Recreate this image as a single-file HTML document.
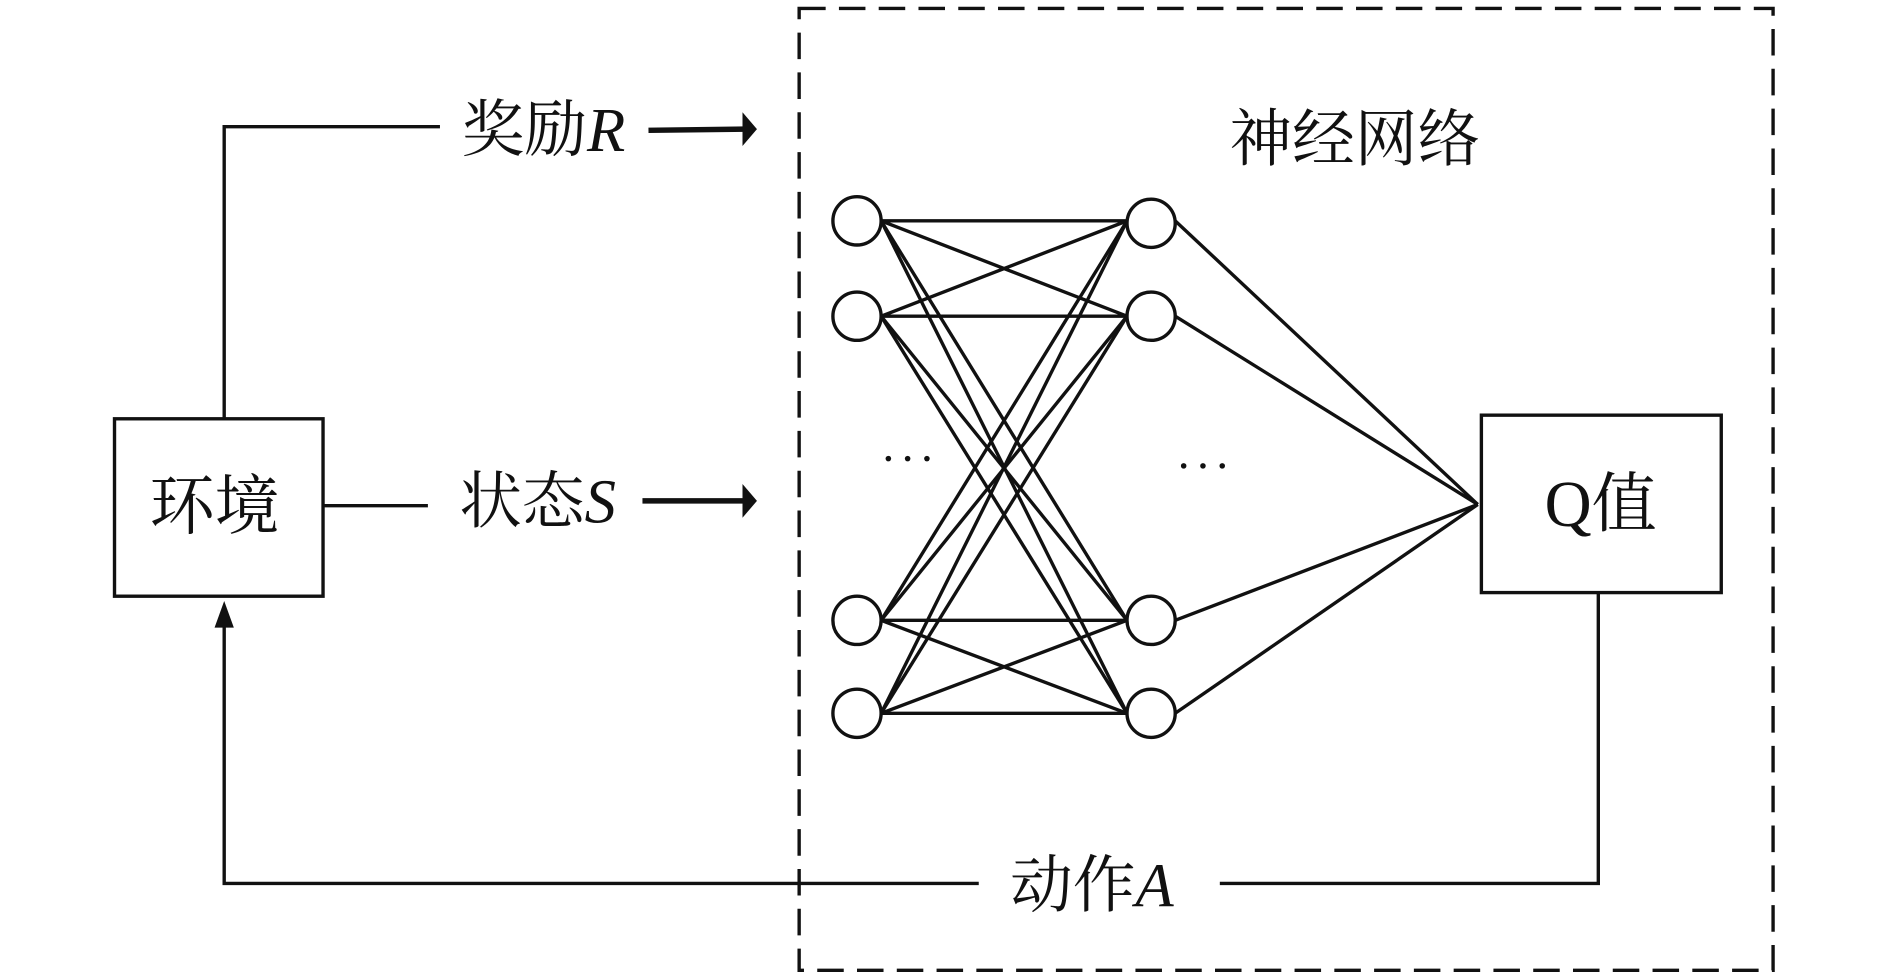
<!DOCTYPE html>
<html><head><meta charset="utf-8"><style>
html,body{margin:0;padding:0;background:#fff;}
svg{display:block;}
text{font-family:"Liberation Serif","Noto Serif CJK SC",serif;fill:#111;}
</style></head><body>
<svg width="1890" height="980" viewBox="0 0 1568 812" preserveAspectRatio="none" xmlns="http://www.w3.org/2000/svg">
<g stroke="#111" fill="none">
<rect x="663" y="7" width="808" height="797" stroke-width="2.8" stroke-dasharray="22,11"/>
<rect x="95" y="347" width="173" height="147" stroke-width="2.8"/>
<rect x="1229" y="344" width="199" height="147" stroke-width="2.8"/>
<polyline points="186,347 186,105 365,105" stroke-width="2.8"/>
<line x1="268" y1="419" x2="355" y2="419" stroke-width="2.8"/>
<polyline points="1326,491 1326,732 1012,732" stroke-width="2.8"/>
<polyline points="812,732 186,732 186,515" stroke-width="2.8"/>
<path d="M186,498 L178,520 L194,520 Z" fill="#111" stroke="none"/>
<line x1="538" y1="108" x2="618" y2="107" stroke-width="4.5"/>
<path d="M628,107 L616,93 L616,121 Z" fill="#111" stroke="none"/>
<line x1="533" y1="415" x2="618" y2="415" stroke-width="4.5"/>
<path d="M628,415 L616,401 L616,429 Z" fill="#111" stroke="none"/>
<g stroke-width="2.8">
<line x1="731" y1="183" x2="935" y2="183"/><line x1="731" y1="183" x2="935" y2="262"/><line x1="731" y1="183" x2="935" y2="514"/><line x1="731" y1="183" x2="935" y2="591"/>
<line x1="731" y1="262" x2="935" y2="183"/><line x1="731" y1="262" x2="935" y2="262"/><line x1="731" y1="262" x2="935" y2="514"/><line x1="731" y1="262" x2="935" y2="591"/>
<line x1="731" y1="514" x2="935" y2="183"/><line x1="731" y1="514" x2="935" y2="262"/><line x1="731" y1="514" x2="935" y2="514"/><line x1="731" y1="514" x2="935" y2="591"/>
<line x1="731" y1="591" x2="935" y2="183"/><line x1="731" y1="591" x2="935" y2="262"/><line x1="731" y1="591" x2="935" y2="514"/><line x1="731" y1="591" x2="935" y2="591"/>
<line x1="975" y1="183" x2="1226" y2="418"/><line x1="975" y1="262" x2="1226" y2="418"/><line x1="975" y1="514" x2="1226" y2="418"/><line x1="975" y1="591" x2="1226" y2="418"/>
</g>
<g stroke-width="2.8" fill="#fff">
<circle cx="711" cy="183" r="20"/><circle cx="711" cy="262" r="20"/><circle cx="711" cy="514" r="20"/><circle cx="711" cy="591" r="20"/>
<circle cx="955" cy="185" r="20"/><circle cx="955" cy="262" r="20"/><circle cx="955" cy="514" r="20"/><circle cx="955" cy="591" r="20"/>
</g>
</g>
<g fill="#111">
<circle cx="737" cy="380" r="2.3"/><circle cx="753" cy="380" r="2.3"/><circle cx="769" cy="380" r="2.3"/>
<circle cx="982" cy="386" r="2.3"/><circle cx="998" cy="386" r="2.3"/><circle cx="1014" cy="386" r="2.3"/>
</g>
<text x="178" y="438" font-size="54" text-anchor="middle">环境</text>
<text x="1328" y="436" font-size="54" text-anchor="middle">Q值</text>
<text x="1124" y="133" font-size="52" text-anchor="middle">神经网络</text>
<text x="383" y="125" font-size="52">奖励<tspan font-style="italic">R</tspan></text>
<text x="381" y="433" font-size="52">状态<tspan font-style="italic">S</tspan></text>
<text x="838" y="751" font-size="52">动作<tspan font-style="italic">A</tspan></text>
</svg>
</body></html>
